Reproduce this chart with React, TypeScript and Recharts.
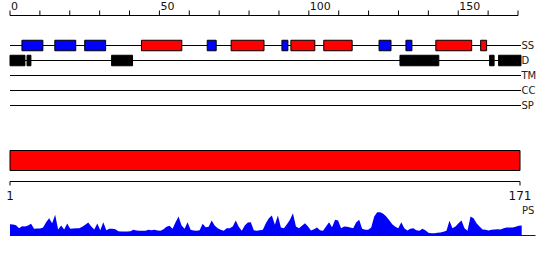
import React from 'react';
import { ComposedChart, AreaChart, Area, XAxis, YAxis, ReferenceArea, ReferenceLine } from 'recharts';

// ---- data ----
const seqLength = 171;
const topTicks = [0, 10, 20, 30, 40, 50, 60, 70, 80, 90, 100, 110, 120, 130, 140, 150, 160, 170];
const topLabelStep = 50;
const bottomTicks = [1, 171];
const trackNames = ['SS', 'D', 'TM', 'CC', 'SP'];

// secondary structure: helices (red) and strands (blue), [start, end] in residues
const helices: [number, number][] = [[44, 57.5], [74, 85], [94, 102], [105, 114.5], [142.5, 154.5], [157.5, 159.5]];
const strands: [number, number][] = [[4, 11], [15, 22], [25, 32], [66, 69], [91, 93], [123.5, 127.5], [132.5, 134.5]];
// disorder regions
const disorder: [number, number][] = [[0, 5], [5.7, 7], [34, 41], [130.5, 143.5], [160.5, 162], [163.5, 171]];
// domain bar
const domains: [number, number][] = [[1, 171]];

// PS profile, one value per residue (1..171)
const psValues = [
  11.3, 11, 10.3, 7.3, 9.3, 9, 10, 11.7, 6.7, 7, 7, 8, 13.3, 17.3, 12.3, 20.7, 6, 10, 6, 12,
  6.7, 7, 7.3, 7.3, 8.7, 10.7, 13, 9, 6, 12, 5.3, 13.3, 5.3, 6.7, 6.7, 6.3, 4.3, 4, 4, 4,
  4.3, 5.7, 5, 4.7, 4.7, 4.7, 5.7, 5.3, 5.7, 5, 4.7, 6.3, 8.7, 9.7, 6.7, 13.3, 19,
  10, 6.7, 13.3, 5.7, 5, 4.7, 5.3, 11.7, 8.3, 8.7, 15, 10, 7.3, 5.7, 4.7, 7.3, 7.3, 9, 15,
  8.7, 4.7, 10, 13, 13.3, 5.3, 4.7, 5.3, 5.7, 12.3, 17.3, 20, 10.7, 20, 8, 7.3, 11.3, 15.7,
  22.3, 9, 7.3, 9.7, 12.3, 9, 5, 6.3, 8, 5.3, 4.7, 9, 13.3, 8.3, 15.7, 15, 7.3, 9, 8.7, 8,
  7.3, 13,
  15.7, 6.7, 5.7, 5.7, 8, 19, 23.3, 23.3, 21.7, 19, 15.3, 11.3, 8.7, 7.3, 13.3, 7.3, 5, 6.7,
  7.3, 5.3, 4.7, 6.7, 5.3, 2.7, 2.3, 2.3, 2.7, 3, 3.7, 4.7, 14.7, 7.3, 9, 12.3, 15, 7.3, 4.7,
  19, 17.3, 12.3, 9, 6, 5.7, 5, 5.7, 6, 6.3, 6, 7.3, 8, 8, 8, 8.7, 9.7, 10,
];

const trackData = trackNames.map((name, i) => ({ name, row: i }));
const psData = psValues.map((ps, i) => ({ pos: i + 1, ps, row: 0 }));

const FONT = 'DejaVu Sans';

const TopTick = (props: any) => {
  const { x, payload } = props;
  if (payload.value % topLabelStep !== 0) return <g />;
  return (
    <text x={x + 1} y={9.5} textAnchor="start" fontSize={11} fill="#111" fontFamily={FONT}>
      {payload.value}
    </text>
  );
};

const BottomTick = (props: any) => {
  const { x, payload } = props;
  return (
    <text x={x} y={60} textAnchor="middle" fontSize={12} fill="#111" fontFamily={FONT}>
      {payload.value}
    </text>
  );
};

export default function App() {
  return (
    <div style={{ position: 'absolute', left: 0, top: 0, width: 550, height: 260, background: '#fff', fontFamily: FONT, overflow: 'hidden' }}>
      {/* tracks */}
      <div style={{ position: 'absolute', left: 0, top: 0 }}>
        <ComposedChart width={550} height={121} margin={{ top: 0.5, right: 32, bottom: 0.5, left: 10 }} data={trackData}>
          <XAxis
            type="number"
            orientation="top"
            dataKey="row"
            domain={[0, 170]}
            ticks={topTicks}
            interval={0}
            tickSize={5}
            height={15}
            stroke="#000"
            tick={<TopTick />}
            allowDataOverflow
          />
          <YAxis type="number" dataKey="row" domain={[-2, 5]} reversed hide allowDataOverflow />
          {trackNames.map((name, i) => (
            <ReferenceLine
              key={name}
              segment={[{ x: 0, y: i }, { x: seqLength, y: i }]}
              stroke="#000"
              strokeWidth={1}
              ifOverflow="visible"
              zIndex={50}
              label={{ value: name, position: 'right', offset: 0.5, fill: '#222', fontSize: 10, fontFamily: FONT }}
            />
          ))}
          {strands.map(([s, e], i) => (
            <ReferenceArea key={'s' + i} x1={s} x2={e} y1={-0.35} y2={0.35} fill="#0000ff" fillOpacity={1} stroke="#000" strokeWidth={1} ifOverflow="visible" zIndex={600} />
          ))}
          {helices.map(([s, e], i) => (
            <ReferenceArea key={'h' + i} x1={s} x2={e} y1={-0.35} y2={0.35} fill="#ff0000" fillOpacity={1} stroke="#000" strokeWidth={1} ifOverflow="visible" zIndex={600} />
          ))}
          {disorder.map(([s, e], i) => (
            <ReferenceArea key={'d' + i} x1={s} x2={e} y1={0.65} y2={1.35} fill="#000" fillOpacity={1} stroke="#000" strokeWidth={1} ifOverflow="visible" zIndex={600} />
          ))}
        </ComposedChart>
      </div>

      {/* domain bar + residue axis */}
      <div style={{ position: 'absolute', left: 0, top: 140 }}>
        <ComposedChart width={550} height={66} margin={{ top: 0, right: 30, bottom: 0.5, left: 10 }} data={psData}>
          <XAxis
            type="number"
            dataKey="pos"
            domain={[1, seqLength]}
            ticks={bottomTicks}
            interval={0}
            tickSize={4}
            height={24}
            stroke="#000"
            tick={<BottomTick />}
            allowDataOverflow
          />
          <YAxis type="number" dataKey="row" domain={[0, 41.5]} reversed hide allowDataOverflow />
          {domains.map(([s, e], i) => (
            <ReferenceArea key={'dom' + i} x1={s} x2={e} y1={10.5} y2={30.5} fill="#ff0000" fillOpacity={1} stroke="#000" strokeWidth={1} ifOverflow="visible" />
          ))}
        </ComposedChart>
      </div>

      {/* PS profile */}
      <div style={{ position: 'absolute', left: 0, top: 200 }}>
        <AreaChart width={550} height={36} margin={{ top: 10.5, right: 28.3, bottom: 0.5, left: 10 }} data={psData}>
          <XAxis type="number" dataKey="pos" domain={[1, seqLength]} hide />
          <YAxis type="number" domain={[0, 25]} hide allowDataOverflow />
          <Area type="linear" dataKey="ps" fill="#0000ff" fillOpacity={1} stroke="none" isAnimationActive={false} dot={false} activeDot={false} />
          <ReferenceLine segment={[{ x: 1, y: 0 }, { x: 175.6, y: 0 }]} stroke="#0000ff" strokeWidth={1} ifOverflow="visible" />
        </AreaChart>
      </div>
      <div style={{ position: 'absolute', left: 522, top: 205, fontSize: 10, lineHeight: '12px', color: '#222', fontFamily: FONT }}>PS</div>
    </div>
  );
}
